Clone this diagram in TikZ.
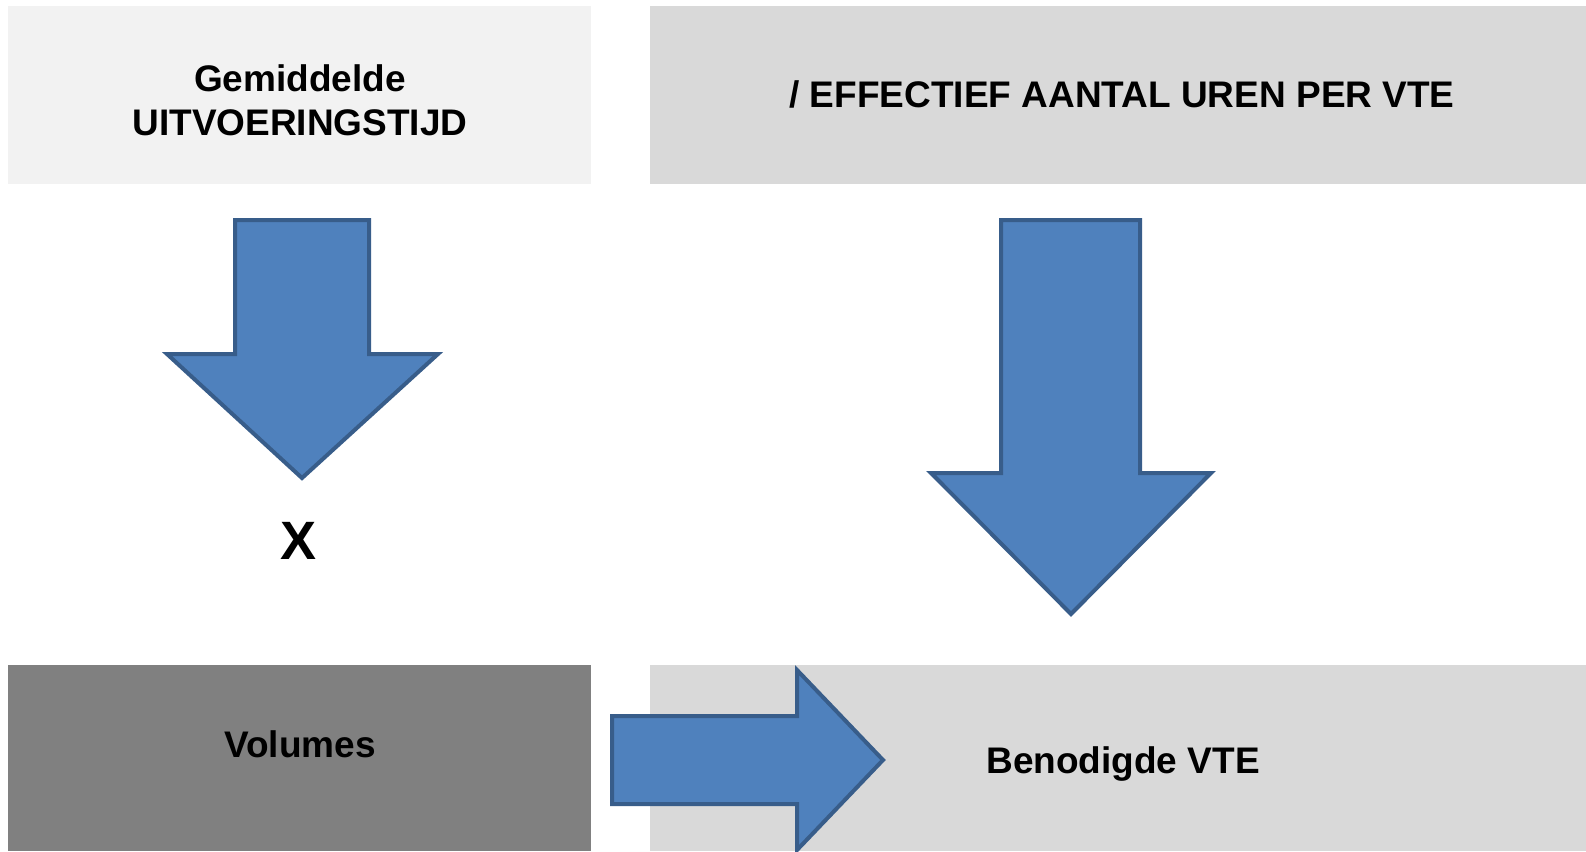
\documentclass[tikz,border=0pt]{standalone}
\usepackage{fontspec}
\setmainfont{Liberation Sans}
\definecolor{boxlight}{HTML}{F2F2F2}
\definecolor{boxmid}{HTML}{D9D9D9}
\definecolor{boxdark}{HTML}{808080}
\definecolor{arrowfill}{HTML}{4F81BD}
\definecolor{arrowline}{HTML}{385D8A}
\begin{document}
\begin{tikzpicture}[x=1pt,y=-1pt,
  panel/.style={draw=none, inner sep=0pt, anchor=north west},
  lbl/.style={inner sep=0pt, anchor=base, font=\fontsize{37}{42}\selectfont\bfseries},
  bigsign/.style={inner sep=0pt, anchor=base, font=\fontsize{54}{60}\selectfont\bfseries},
  blockarrow/.style={fill=arrowfill, draw=arrowline, line width=4pt, line join=miter}]
\useasboundingbox (0,0) rectangle (1586,851);
\fill[white] (0,0) rectangle (1586,851);
% panels
\node[panel, fill=boxlight, minimum width=583pt, minimum height=178pt] (tl) at (8,6) {};
\node[panel, fill=boxmid, minimum width=936pt, minimum height=178pt] (tr) at (650,6) {};
\node[panel, fill=boxdark, minimum width=583pt, minimum height=186pt] (bl) at (8,665) {};
\node[panel, fill=boxmid, minimum width=936pt, minimum height=186pt] (br) at (650,665) {};
% labels
\node[lbl] (t1a) at (300,92) {Gemiddelde};
\node[lbl] (t1b) at (300,135) {UITVOERINGSTIJD};
\node[lbl] (t2) at (1122,107) {/ EFFECTIEF AANTAL UREN PER VTE};
\node[lbl] (t3) at (300,757) {Volumes};
\node[lbl] (t4) at (1123,773) {Benodigde VTE};
\node[bigsign] (tx) at (299,559) {X};
% left down arrow
\draw[blockarrow] (235,220) -- (369,220) -- (369,354) -- (438,354)
  -- (302,478) -- (167,354) -- (235,354) -- cycle;
% right down arrow
\draw[blockarrow] (1001,220) -- (1140,220) -- (1140,473) -- (1211,473)
  -- (1071,614) -- (931,473) -- (1001,473) -- cycle;
% right arrow
\draw[blockarrow] (612,716) -- (797,716) -- (797,670) -- (883,760)
  -- (797,850) -- (797,804) -- (612,804) -- cycle;
\end{tikzpicture}
\end{document}
